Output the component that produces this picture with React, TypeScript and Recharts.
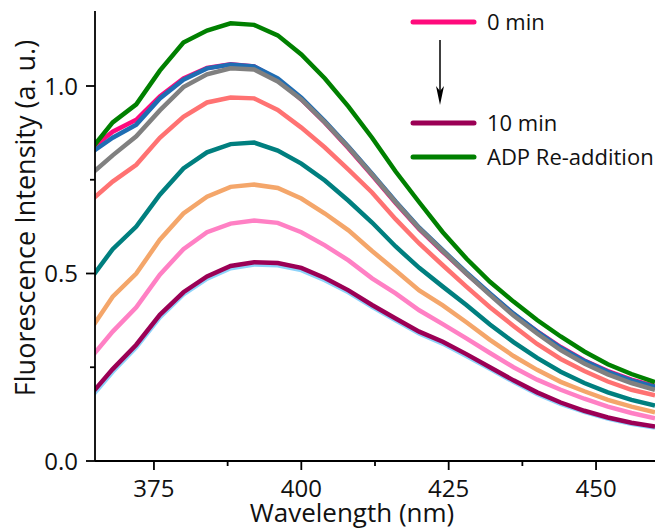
import { LineChart, Line, XAxis, YAxis, Legend } from "recharts";

// wavelength (nm), sampled every 4 nm
const wavelength = [
  364, 368, 372, 376, 380, 384, 388, 392, 396, 400, 404, 408, 412, 416, 420,
  424, 428, 432, 436, 440, 444, 448, 452, 456, 460,
];

// fluorescence intensity (a. u.) for each trace
const min0 = [0.828, 0.878, 0.91, 0.972, 1.02, 1.048, 1.058, 1.052, 1.017, 0.964, 0.902, 0.834, 0.762, 0.688, 0.618, 0.558, 0.5, 0.445, 0.392, 0.346, 0.304, 0.268, 0.24, 0.217, 0.2];
const min1 = [0.818, 0.862, 0.897, 0.967, 1.017, 1.047, 1.057, 1.052, 1.02, 0.969, 0.906, 0.838, 0.766, 0.692, 0.622, 0.562, 0.503, 0.447, 0.393, 0.345, 0.302, 0.267, 0.238, 0.215, 0.198];
const min2 = [0.76, 0.815, 0.866, 0.935, 0.997, 1.031, 1.047, 1.044, 1.012, 0.964, 0.903, 0.836, 0.764, 0.69, 0.62, 0.56, 0.5, 0.443, 0.388, 0.34, 0.296, 0.26, 0.231, 0.208, 0.19];
const min3 = [0.69, 0.745, 0.79, 0.862, 0.918, 0.956, 0.969, 0.967, 0.936, 0.889, 0.836, 0.777, 0.716, 0.645, 0.58, 0.522, 0.465, 0.41, 0.36, 0.312, 0.272, 0.24, 0.212, 0.19, 0.175];
const min4 = [0.48, 0.565, 0.625, 0.71, 0.78, 0.823, 0.845, 0.849, 0.828, 0.793, 0.748, 0.694, 0.636, 0.572, 0.515, 0.465, 0.416, 0.364, 0.317, 0.275, 0.238, 0.208, 0.183, 0.163, 0.148];
const min5 = [0.345, 0.438, 0.5, 0.59, 0.66, 0.705, 0.731, 0.737, 0.728, 0.7, 0.66, 0.615, 0.56, 0.508, 0.455, 0.415, 0.37, 0.323, 0.28, 0.243, 0.211, 0.186, 0.163, 0.145, 0.13];
const min6 = [0.27, 0.345, 0.41, 0.497, 0.565, 0.61, 0.633, 0.641, 0.635, 0.61, 0.575, 0.535, 0.487, 0.447, 0.402, 0.365, 0.327, 0.288, 0.25, 0.217, 0.19, 0.166, 0.145, 0.128, 0.114];
const min8 = [0.164, 0.238, 0.303, 0.383, 0.444, 0.486, 0.514, 0.524, 0.522, 0.509, 0.482, 0.45, 0.411, 0.375, 0.34, 0.313, 0.28, 0.246, 0.211, 0.179, 0.152, 0.131, 0.113, 0.099, 0.089];
const min10 = [0.172, 0.245, 0.31, 0.39, 0.45, 0.492, 0.52, 0.53, 0.528, 0.515, 0.488, 0.455, 0.416, 0.38, 0.345, 0.318, 0.285, 0.25, 0.215, 0.183, 0.156, 0.134, 0.116, 0.102, 0.092];
const adp = [0.825, 0.903, 0.951, 1.041, 1.116, 1.148, 1.167, 1.163, 1.135, 1.084, 1.02, 0.945, 0.862, 0.772, 0.69, 0.61, 0.54, 0.478, 0.425, 0.376, 0.332, 0.292, 0.258, 0.232, 0.21];

const xMajor = [375, 400, 425, 450];
const xTicks = [375, 387.5, 400, 412.5, 425, 437.5, 450];
const yMajor = [0, 0.5, 1.0];
const yTicks = [0, 0.25, 0.5, 0.75, 1.0];

const series = [
  { key: "min0", name: "0 min", color: "#ff0a7c", values: min0 },
  { key: "min1", name: "1 min", color: "#1f6db3", values: min1 },
  { key: "min2", name: "2 min", color: "#808080", values: min2 },
  { key: "min3", name: "3 min", color: "#ff7272", values: min3 },
  { key: "min4", name: "4 min", color: "#007f7f", values: min4 },
  { key: "min5", name: "5 min", color: "#f4a66a", values: min5 },
  { key: "min6", name: "6 min", color: "#ff80c4", values: min6 },
  { key: "min8", name: "8 min", color: "#8dd3fa", values: min8 },
  { key: "min10", name: "10 min", color: "#9b0055", values: min10 },
  { key: "adp", name: "ADP Re-addition", color: "#008000", values: adp },
];
const legendKeys = ["min0", "min10", "adp"];

const data = wavelength.map((w, i) => {
  const row: Record<string, number> = { w };
  series.forEach((s) => (row[s.key] = s.values[i]));
  return row;
});

const FONT = "'Open Sans', 'DejaVu Sans', sans-serif";

const XTick = (props: any) => {
  const { x, y, payload } = props;
  const major = xMajor.includes(payload.value);
  return (
    <g>
      <line x1={x} x2={x} y1={y} y2={y + (major ? 9 : 5)} stroke="#000" strokeWidth={1.8} />
      {major && (
        <text x={x} y={y + 36} textAnchor="middle" fontSize={24} fontFamily={FONT} fill="#111">
          {payload.value}
        </text>
      )}
    </g>
  );
};

const YTick = (props: any) => {
  const { x, y, payload } = props;
  const major = yMajor.includes(payload.value);
  return (
    <g>
      <line x1={x - (major ? 9 : 5)} x2={x} y1={y} y2={y} stroke="#000" strokeWidth={1.8} />
      {major && (
        <text x={x - 17} y={y + 8.5} textAnchor="end" fontSize={24} fontFamily={FONT} fill="#111">
          {payload.value.toFixed(1)}
        </text>
      )}
    </g>
  );
};

const rowY = [22, 123, 157];

const LegendBox = (props: any) => {
  const items = (props.payload || []).filter((p: any) => legendKeys.includes(p.dataKey));
  return (
    <svg width={260} height={175} style={{ overflow: "visible" }}>
      {items.map((p: any, i: number) => (
        <g key={p.dataKey}>
          <line x1={15} x2={76} y1={rowY[i]} y2={rowY[i]} stroke={p.color} strokeWidth={5} strokeLinecap="round" />
          <text x={89} y={rowY[i] + 8} fontSize={22} fontFamily={FONT} fill="#111">
            {p.value}
          </text>
        </g>
      ))}
      <line x1={42} x2={42} y1={40} y2={92} stroke="#000" strokeWidth={1.5} />
      <polygon points="42,105 38,86 42,91 46,86" fill="#000" />
    </svg>
  );
};

export default function App() {
  return (
    <div style={{ position: "absolute", left: 0, top: 0, width: 660, height: 529, background: "#fff", fontFamily: FONT }}>
      <LineChart width={660} height={529} data={data} margin={{ top: 11, right: 5, left: 0, bottom: 0 }}>
        <XAxis
          dataKey="w"
          type="number"
          domain={[365, 460]}
          allowDataOverflow
          ticks={xTicks}
          interval={0}
          tickSize={0}
          tickMargin={0}
          tickLine={false}
          tick={<XTick />}
          height={68}
          stroke="#000"
          strokeWidth={1.8}
          label={{
            content: (p: any) => {
              const vb = p.viewBox;
              return (
                <text x={vb.x + vb.width / 2 - 23} y={vb.y + 61} textAnchor="middle" fontSize={26} fontFamily={FONT} fill="#111">
                  Wavelength (nm)
                </text>
              );
            },
          }}
        />
        <YAxis
          type="number"
          domain={[0, 1.2]}
          ticks={yTicks}
          interval={0}
          tickSize={0}
          tickMargin={0}
          tickLine={false}
          tick={<YTick />}
          width={95}
          stroke="#000"
          strokeWidth={1.8}
          label={{
            content: (p: any) => {
              const vb = p.viewBox;
              const cx = vb.x + 35;
              const cy = vb.y + vb.height / 2 - 18;
              return (
                <text x={cx} y={cy} transform={`rotate(-90, ${cx}, ${cy})`} textAnchor="middle" fontSize={27} fontFamily={FONT} fill="#111">
                  Fluorescence Intensity (a. u.)
                </text>
              );
            },
          }}
        />
        <Legend
          layout="horizontal"
          verticalAlign="middle"
          align="center"
          content={<LegendBox />}
          wrapperStyle={{ position: "absolute", left: 398, top: 0, width: 262, height: 175 }}
        />
        {series.map((s) => (
          <Line
            key={s.key}
            dataKey={s.key}
            name={s.name}
            type="linear"
            stroke={s.color}
            strokeWidth={4.5}
            dot={false}
            activeDot={false}
            isAnimationActive={false}
          />
        ))}
      </LineChart>
    </div>
  );
}
